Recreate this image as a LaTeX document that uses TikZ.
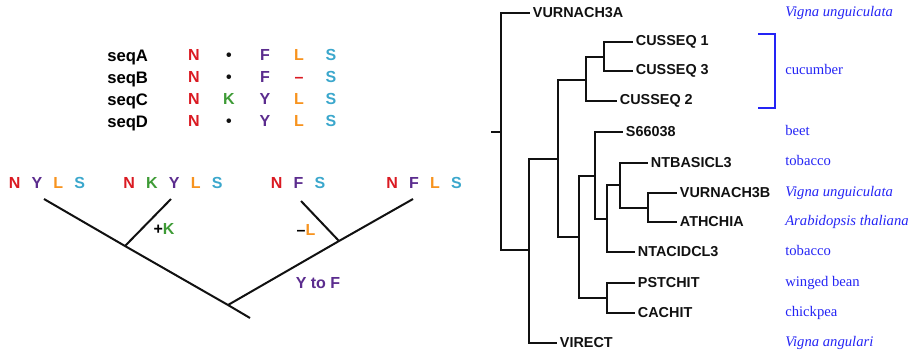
\documentclass[tikz,border=0pt]{standalone}
\usepackage{fontspec}
\setmainfont{Liberation Serif}
\setsansfont{Liberation Sans}
\usepackage{xcolor}
\definecolor{ink}{HTML}{111111}
\definecolor{resred}{HTML}{DA1A22}
\definecolor{resgreen}{HTML}{3E9B36}
\definecolor{respurple}{HTML}{5B2C8E}
\definecolor{resorange}{HTML}{F7931E}
\definecolor{rescyan}{HTML}{3BA7CC}
\definecolor{speciesc}{HTML}{2424F5}

\newcommand{\resN}{\textcolor{resred}{N}}
\newcommand{\resK}{\textcolor{resgreen}{K}}
\newcommand{\resY}{\textcolor{respurple}{Y}}
\newcommand{\resF}{\textcolor{respurple}{F}}
\newcommand{\resL}{\textcolor{resorange}{L}}
\newcommand{\resS}{\textcolor{rescyan}{S}}
\newcommand{\resgap}{\textcolor{ink}{\textbullet}}
\newcommand{\resdel}{\textcolor{resred}{\textendash}}
\newcommand{\rgap}{\hspace{0.7em}}

\begin{document}
\begin{tikzpicture}[
  x=0.75pt, y=-0.75pt,
  font=\sffamily,
  branch/.style={draw=ink, line width=1.5pt},
  taxon/.style={anchor=west, inner sep=2pt, text=ink, font=\sffamily\bfseries\fontsize{10.8}{13}\selectfont},
  species/.style={anchor=west, inner sep=0pt, text height=7pt, text depth=2pt,
    text=speciesc, font=\rmfamily\fontsize{11}{13}\selectfont},
  seqname/.style={anchor=west, inner sep=0pt, text height=9pt, text depth=0pt,
    font=\sffamily\bfseries\fontsize{12.5}{14}\selectfont},
  res/.style={inner sep=0pt, text height=8.6pt, text depth=0pt,
    font=\sffamily\bfseries\fontsize{12}{14}\selectfont},
  bracket/.style={draw=speciesc, line width=1.5pt}
]
\useasboundingbox (0,0) rectangle (912,351);

% Alignment of the four sequences
\foreach \nm/\yy/\cb/\cc/\cd in {A/55/\resgap/\resF/\resL, B/77/\resgap/\resF/\resdel,
                                 C/99/\resK/\resY/\resL, D/121/\resgap/\resY/\resL} {
  \node[seqname] (seq\nm) at (107,\yy) {seq\nm};
  \node[res] (seq\nm-1) at (194,\yy) {\resN};
  \node[res] (seq\nm-2) at (229,\yy) {\cb};
  \node[res] (seq\nm-3) at (265,\yy) {\cc};
  \node[res] (seq\nm-4) at (299,\yy) {\cd};
  \node[res] (seq\nm-5) at (331,\yy) {\resS};
}

% Small tree with the changes on its branches
\node[res] (leafA) at (47,183)  {\resN\rgap\resY\rgap\resL\rgap\resS};
\node[res] (leafB) at (173,183) {\resN\rgap\resK\rgap\resY\rgap\resL\rgap\resS};
\node[res] (leafC) at (298,183) {\resN\rgap\resF\rgap\resS};
\node[res] (leafD) at (424,183) {\resN\rgap\resF\rgap\resL\rgap\resS};

\coordinate (tipA) at (44,199);
\coordinate (tipB) at (171,199);
\coordinate (tipC) at (301,201);
\coordinate (tipD) at (413,199);
\coordinate (nAB) at (125,246);
\coordinate (nCD) at (339,241);
\coordinate (anc) at (228,305);
\coordinate (ancend) at (250,318);

\draw[branch] (tipA) -- (nAB) -- (anc) -- (ancend);
\draw[branch] (tipB) -- (nAB);
\draw[branch] (anc) -- (nCD) -- (tipD);
\draw[branch] (tipC) -- (nCD);

\node[res] (plusK)  at (164,229) {+\resK};
\node[res] (minusL) at (306,230) {\textendash\resL};
\node[res, text=respurple] (ytof) at (318,283) {Y to F};

% Chitinase tree
\coordinate (stub) at (491,132);
\coordinate (root) at (501,132);
\coordinate (nB) at (529,250);
\coordinate (nC) at (558,159);
\coordinate (nD) at (586,80);
\coordinate (nE) at (604,57);
\coordinate (nF) at (579,237);
\coordinate (nG) at (595,176);
\coordinate (nH) at (607,219);
\coordinate (nI) at (620,185);
\coordinate (nJ) at (648,208);
\coordinate (nK) at (607,298);

\node[taxon] (vur3a)   at (530,13)  {VURNACH3A};
\node[taxon] (cus1)    at (633,42)  {CUSSEQ 1};
\node[taxon] (cus3)    at (633,71)  {CUSSEQ 3};
\node[taxon] (cus2)    at (617,101) {CUSSEQ 2};
\node[taxon] (s66)     at (623,132) {S66038};
\node[taxon] (ntbasic) at (648,163) {NTBASICL3};
\node[taxon] (vur3b)   at (677,193) {VURNACH3B};
\node[taxon] (athchia) at (677,222) {ATHCHIA};
\node[taxon] (ntacid)  at (635,252) {NTACIDCL3};
\node[taxon] (pstchit) at (635,283) {PSTCHIT};
\node[taxon] (cachit)  at (635,313) {CACHIT};
\node[taxon] (virect)  at (557,343) {VIRECT};

\draw[branch] (stub) -- (root);
\foreach \p/\c in {root/vur3a, root/nB, nB/nC, nB/virect, nC/nD, nC/nF,
                   nD/nE, nD/cus2, nE/cus1, nE/cus3, nF/nG, nF/nK,
                   nG/s66, nG/nH, nH/nI, nH/ntacid, nI/ntbasic, nI/nJ,
                   nJ/vur3b, nJ/athchia, nK/pstchit, nK/cachit}
  \draw[branch] (\p) |- (\c);

% Source species
\node[species] (sp1)  at (785,13)  {\textit{Vigna unguiculata}};
\node[species] (sp2)  at (785,71)  {cucumber};
\node[species] (sp3)  at (785,132) {beet};
\node[species] (sp4)  at (785,162) {tobacco};
\node[species] (sp5)  at (785,193) {\textit{Vigna unguiculata}};
\node[species] (sp6)  at (785,222) {\textit{Arabidopsis thaliana}};
\node[species] (sp7)  at (785,252) {tobacco};
\node[species] (sp8)  at (785,283) {winged bean};
\node[species] (sp9)  at (785,313) {chickpea};
\node[species] (sp10) at (785,343) {\textit{Vigna angulari}};

\coordinate (brtop) at (758,34);
\coordinate (brbot) at (758,108);
\draw[bracket] (brtop) -- ++(17,0) |- (brbot);

\end{tikzpicture}
\end{document}
